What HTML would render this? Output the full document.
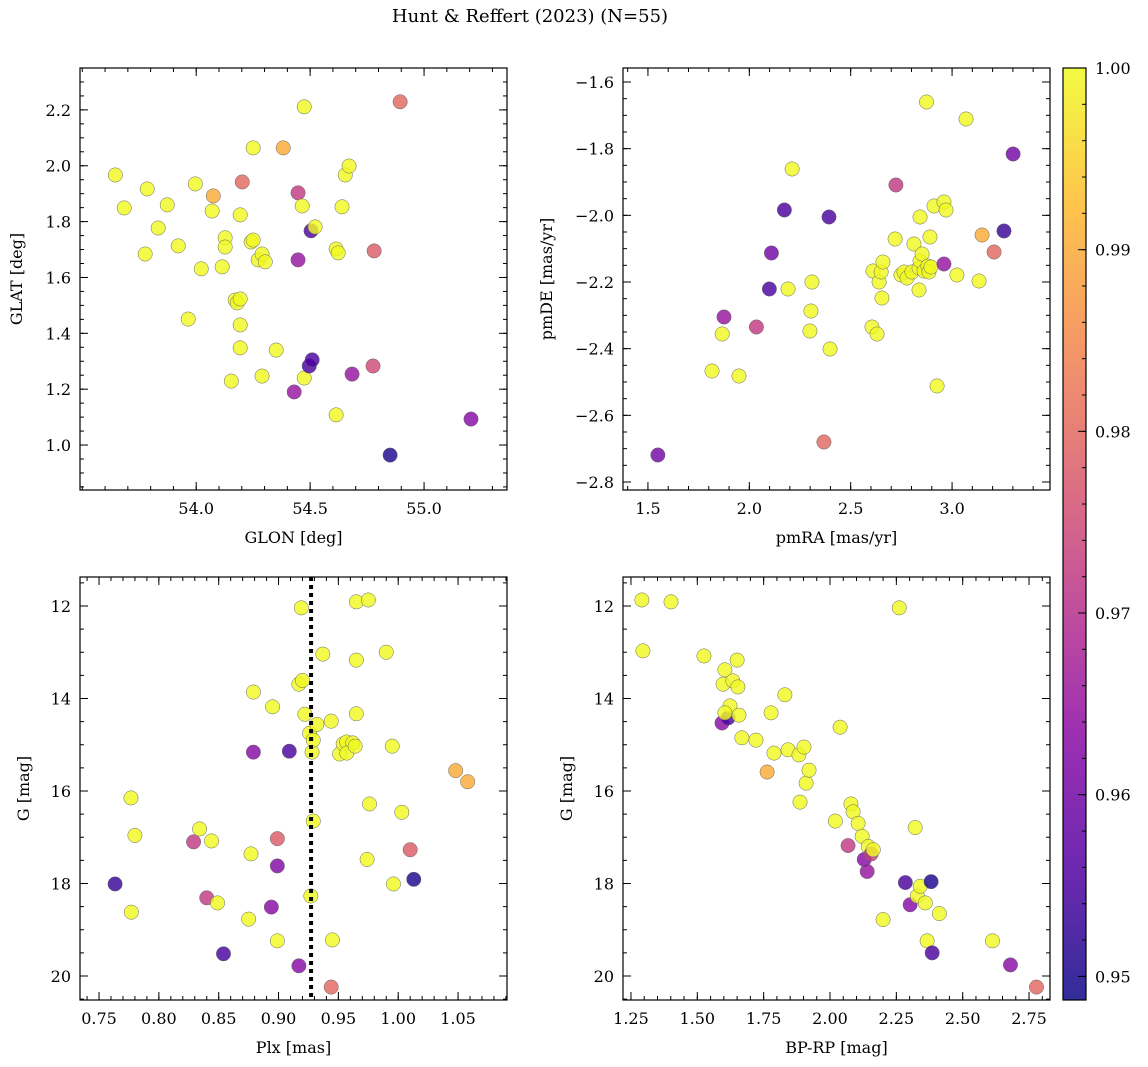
<!DOCTYPE html>
<html><head><meta charset="utf-8"><style>
body{margin:0;background:#fff;}
svg{display:block;font-family:"DejaVu Serif","Liberation Serif",serif;}
</style></head><body>
<svg id="fig" width="1148" height="1067" viewBox="0 0 1148 1067" xmlns="http://www.w3.org/2000/svg">
<text x="530" y="22" font-size="18" text-anchor="middle">Hunt &amp; Reffert (2023) (N=55)</text>
</svg>
<script>
// ---- Data: panel 1 (GLON vs GLAT) ----
const glon = [53.645,53.684,53.785,53.776,53.833,53.873,53.921,53.965,53.996,54.022,54.070,54.075,54.114,54.127,54.127,54.202,54.193,54.171,54.180,54.193,54.193,54.193,54.154,54.241,54.250,54.250,54.272,54.289,54.303,54.289,54.351,54.382,54.447,54.430,54.447,54.465,54.474,54.474,54.496,54.509,54.504,54.522,54.614,54.614,54.623,54.640,54.654,54.671,54.684,54.781,54.776,54.851,54.895,55.206];
const glat = [1.967,1.849,1.917,1.684,1.777,1.860,1.713,1.451,1.935,1.631,1.838,1.892,1.638,1.742,1.709,1.942,1.824,1.519,1.509,1.523,1.430,1.348,1.229,1.727,1.734,2.064,1.663,1.684,1.656,1.247,1.340,2.064,1.663,1.190,1.903,1.856,2.211,1.240,1.283,1.305,1.767,1.781,1.108,1.702,1.688,1.853,1.967,1.999,1.254,1.695,1.283,0.964,2.229,1.093];
const prob1 = [1,1,1,1,1,1,1,1,1,1,1,0.99,1,1,1,0.98,1,1,1,1,1,1,1,1,1,1,1,1,1,1,1,0.99,0.965,0.965,0.972,1,1,1,0.955,0.955,0.955,1,1,1,1,1,1,1,0.965,0.978,0.975,0.95,0.98,0.963];
// ---- Data: panel 2 (pmRA vs pmDE) ----
const pmra = [1.549,1.816,1.866,1.875,1.949,2.035,2.099,2.109,2.173,2.191,2.211,2.299,2.304,2.309,2.368,2.393,2.398,2.605,2.610,2.630,2.640,2.650,2.659,2.654,2.723,2.719,2.748,2.763,2.778,2.802,2.812,2.837,2.837,2.842,2.842,2.852,2.862,2.881,2.886,2.891,2.874,2.896,2.911,2.926,2.960,2.960,2.970,3.024,3.069,3.133,3.148,3.207,3.256,3.301];
const pmde = [-2.719,-2.467,-2.356,-2.305,-2.482,-2.335,-2.221,-2.113,-1.984,-2.221,-1.861,-2.347,-2.287,-2.200,-2.680,-2.005,-2.401,-2.335,-2.167,-2.356,-2.200,-2.170,-2.140,-2.248,-1.909,-2.071,-2.179,-2.170,-2.188,-2.170,-2.086,-2.224,-2.158,-2.005,-2.137,-2.116,-2.167,-2.152,-2.170,-2.065,-1.660,-2.155,-1.972,-2.512,-2.146,-1.960,-1.984,-2.179,-1.711,-2.197,-2.059,-2.110,-2.047,-1.816];
const prob2 = [0.96,1,1,0.965,1,0.972,0.955,0.96,0.955,1,1,1,1,1,0.98,0.955,1,1,1,1,1,1,1,1,0.972,1,1,1,1,1,1,1,1,1,1,1,1,1,1,1,1,1,1,1,0.965,1,1,1,1,1,0.99,0.98,0.953,0.96];
// ---- Data: panel 3 (Plx vs G) ----
const plx = [0.7634,0.7767,0.780,0.777,0.829,0.834,0.840,0.844,0.849,0.854,0.879,0.879,0.875,0.877,0.895,0.894,0.899,0.899,0.899,0.909,0.917,0.919,0.917,0.920,0.922,0.926,0.928,0.929,0.927,0.929,0.932,0.937,0.944,0.945,0.944,0.951,0.954,0.957,0.962,0.957,0.965,0.964,0.965,0.965,0.975,0.974,0.976,0.990,0.996,1.003,0.995,1.010,1.013,1.048,1.058];
const gmag3 = [18.01,16.15,16.96,18.62,17.10,16.82,18.31,17.08,18.42,19.52,13.86,15.16,18.77,17.36,14.18,18.51,17.03,17.62,19.24,15.14,19.78,12.04,13.69,13.61,14.34,14.75,15.16,16.65,18.27,14.90,14.56,13.04,14.49,19.22,20.24,15.20,14.98,14.94,14.96,15.18,11.91,15.03,14.33,13.17,11.87,17.48,16.28,13.00,18.01,16.46,15.03,17.27,17.91,15.56,15.80];
const prob3 = [0.953,1,1,1,0.972,1,0.972,1,1,0.955,1,0.963,1,1,1,0.963,0.978,0.962,1,0.955,0.963,1,1,1,1,1,1,1,1,1,1,1,1,1,0.98,1,1,1,1,1,1,1,1,1,1,1,1,1,1,1,1,0.978,0.95,0.99,0.99];
const plxMean = 0.9272;
// ---- Data: panel 4 (BP-RP vs G) ----
const bprp = [1.291,1.295,1.401,1.525,1.597,1.604,1.634,1.650,1.653,1.593,1.616,1.623,1.604,1.657,1.668,1.721,1.763,1.778,1.789,1.830,1.842,1.883,1.902,1.910,1.921,1.887,2.020,2.038,2.068,2.079,2.087,2.106,2.121,2.129,2.144,2.140,2.155,2.163,2.200,2.261,2.284,2.302,2.321,2.329,2.340,2.359,2.381,2.366,2.385,2.412,2.612,2.680,2.778];
const gmag4 = [11.87,12.97,11.91,13.08,13.69,13.38,13.62,13.17,13.75,14.53,14.42,14.16,14.31,14.36,14.85,14.90,15.59,14.31,15.18,13.92,15.11,15.22,15.05,15.83,15.55,16.24,16.65,14.62,17.18,16.28,16.45,16.70,16.98,17.48,17.20,17.74,17.36,17.27,18.78,12.04,17.98,18.46,16.79,18.27,18.06,18.42,17.96,19.24,19.50,18.65,19.24,19.76,20.24];
const prob4 = [1,1,1,1,1,1,1,1,1,0.963,0.955,1,1,1,1,1,0.99,1,1,1,1,1,1,1,1,1,1,1,0.972,1,1,1,1,0.963,1,0.965,0.972,1,1,1,0.955,0.963,1,1,1,1,0.95,1,0.955,1,1,0.963,0.98];
// ---- Tick labels ----
const ticks1x=[54.0,54.5,55.0], ticks1y=[1.0,1.2,1.4,1.6,1.8,2.0,2.2];
const ticks2x=[1.5,2.0,2.5,3.0], ticks2y=[-2.8,-2.6,-2.4,-2.2,-2.0,-1.8,-1.6];
const ticks3x=[0.75,0.80,0.85,0.90,0.95,1.00,1.05], ticksG=[12,14,16,18,20];
const ticks4x=[1.25,1.50,1.75,2.00,2.25,2.50,2.75];
const cbTicks=[0.95,0.96,0.97,0.98,0.99,1.00];

const NS="http://www.w3.org/2000/svg";
const svg=document.getElementById('fig');
function mk(tag,attrs,parent){const e=document.createElementNS(NS,tag);for(const k in attrs)e.setAttribute(k,attrs[k]);(parent||svg).appendChild(e);return e;}
const PMIN=0.9487,PMAX=1.0;
const stops=[[13,8,135],[84,2,163],[139,10,165],[185,50,137],[219,92,104],[244,136,73],[254,188,43],[240,249,33]];
function plasma(p){let t=Math.max(0,Math.min(1,(p-PMIN)/(PMAX-PMIN)))*(stops.length-1);const i=Math.min(stops.length-2,Math.floor(t));const f=t-i;const c=stops[i].map((v,k)=>Math.round(v+(stops[i+1][k]-v)*f));return `rgb(${c[0]},${c[1]},${c[2]})`;}

function panel(cfg){
  const {name,x0,x1,y0,y1,xmin,xmax,ymin,ymax,invY,xt,yt,xminor,yminor,xfmt,yfmt,xlabel,ylabel,xs,ys,ps}=cfg;
  const g=mk('g',{});
  
  
  const sx=v=>x0+(v-xmin)/(xmax-xmin)*(x1-x0);
  const sy=v=>invY? y0+(v-ymin)/(ymax-ymin)*(y1-y0) : y1-(v-ymin)/(ymax-ymin)*(y1-y0);
  const clip='c'+name;
  const cp=mk('clipPath',{id:clip},g);mk('rect',{x:x0,y:y0,width:x1-x0,height:y1-y0},cp);
  const pts=mk('g',{'clip-path':`url(#${clip})`},g);
  
  
  for(let i=0;i<xs.length;i++){
    const c=mk('circle',{cx:sx(xs[i]),cy:sy(ys[i]),r:7.2,fill:plasma(ps[i]),'fill-opacity':0.82,stroke:'#666','stroke-width':0.5},pts);
    
    
  }
  if(cfg.vline!==undefined){
    const l=mk('line',{x1:sx(cfg.vline),x2:sx(cfg.vline),y1:y0,y2:y1,stroke:'#000','stroke-width':4,'stroke-dasharray':'4,4'},g);
    
    
  }
  mk('rect',{x:x0,y:y0,width:x1-x0,height:y1-y0,fill:'none',stroke:'#000','stroke-width':1.2},g);
  const tk=mk('g',{stroke:'#000','stroke-width':1},g);
  for(let v=Math.ceil(xmin/xminor-1e-6)*xminor;v<=xmax+1e-9;v+=xminor){const X=sx(v);mk('line',{x1:X,x2:X,y1:y1,y2:y1-4},tk);mk('line',{x1:X,x2:X,y1:y0,y2:y0+4},tk);}
  for(let v=Math.ceil(Math.min(ymin,ymax)/yminor-1e-6)*yminor;v<=Math.max(ymin,ymax)+1e-9;v+=yminor){const Y=sy(v);mk('line',{x1:x0,x2:x0+4,y1:Y,y2:Y},tk);mk('line',{x1:x1,x2:x1-4,y1:Y,y2:Y},tk);}
  xt.forEach(v=>{const X=sx(v);mk('line',{x1:X,x2:X,y1:y1,y2:y1-8},tk);mk('line',{x1:X,x2:X,y1:y0,y2:y0+8},tk);
    const t=mk('text',{x:X,y:y1+24,'font-size':16,'text-anchor':'middle'},g);t.textContent=xfmt(v);
    });
  yt.forEach(v=>{const Y=sy(v);mk('line',{x1:x0,x2:x0+8,y1:Y,y2:Y},tk);mk('line',{x1:x1,x2:x1-8,y1:Y,y2:Y},tk);
    const t=mk('text',{x:x0-9,y:Y+6,'font-size':16,'text-anchor':'end'},g);t.textContent=yfmt(v);
    });
  const xl=mk('text',{x:(x0+x1)/2,y:y1+53,'font-size':16,'text-anchor':'middle'},g);xl.textContent=xlabel;
  
  const yx=cfg.ylx, yy=(y0+y1)/2;
  const yl=mk('text',{x:yx,y:yy,'font-size':16,'text-anchor':'middle',transform:`rotate(-90 ${yx} ${yy})`},g);yl.textContent=ylabel;
  
}
const minus=s=>s.replace('-','\u2212');
panel({name:'glon-glat-panel',x0:80,x1:507,y0:68,y1:490,xmin:53.49,xmax:55.364,ymin:0.839,ymax:2.35,xt:ticks1x,yt:ticks1y,xminor:0.1,yminor:0.05,xfmt:v=>v.toFixed(1),yfmt:v=>v.toFixed(1),xlabel:'GLON [deg]',ylabel:'GLAT [deg]',ylx:22,xs:glon,ys:glat,ps:prob1});
panel({name:'pm-panel',x0:623,x1:1050,y0:68,y1:490,xmin:1.377,xmax:3.483,ymin:-2.824,ymax:-1.558,xt:ticks2x,yt:ticks2y,xminor:0.1,yminor:0.05,xfmt:v=>v.toFixed(1),yfmt:v=>minus(v.toFixed(1)),xlabel:'pmRA [mas/yr]',ylabel:'pmDE [mas/yr]',ylx:552,xs:pmra,ys:pmde,ps:prob2});
panel({name:'plx-g-panel',x0:80,x1:507,y0:577,y1:1000,xmin:0.7341,xmax:1.0909,ymin:11.373,ymax:20.519,invY:true,xt:ticks3x,yt:ticksG,xminor:0.01,yminor:0.5,xfmt:v=>v.toFixed(2),yfmt:v=>String(v),xlabel:'Plx [mas]',ylabel:'G [mag]',ylx:29,xs:plx,ys:gmag3,ps:prob3,vline:plxMean});
panel({name:'cmd-panel',x0:623,x1:1050,y0:577,y1:1000,xmin:1.22,xmax:2.829,ymin:11.373,ymax:20.519,invY:true,xt:ticks4x,yt:ticksG,xminor:0.05,yminor:0.5,xfmt:v=>v.toFixed(2),yfmt:v=>String(v),xlabel:'BP-RP [mag]',ylabel:'G [mag]',ylx:572,xs:bprp,ys:gmag4,ps:prob4});
// colorbar
(function(){
  const g=mk('g',{});
  
  
  const x0=1063,x1=1086,y0=68,y1=1000;
  const defs=mk('defs',{},g);const lg=mk('linearGradient',{id:'cbg',x1:0,y1:1,x2:0,y2:0},defs);
  for(let i=0;i<=20;i++){mk('stop',{offset:i/20,'stop-color':plasma(PMIN+(PMAX-PMIN)*i/20),'stop-opacity':0.85},lg);}
  mk('rect',{x:x0,y:y0,width:x1-x0,height:y1-y0,fill:'url(#cbg)',stroke:'#000','stroke-width':1.2},g);
  const sy=v=>y1-(v-PMIN)/(PMAX-PMIN)*(y1-y0);
  for(let v=0.950;v<=1.0001;v+=0.002){mk('line',{x1:x1,x2:x1-4,y1:sy(v),y2:sy(v),stroke:'#000'},g);}
  cbTicks.forEach(v=>{const Y=sy(v);mk('line',{x1:x1,x2:x1-8,y1:Y,y2:Y,stroke:'#000'},g);
    const t=mk('text',{x:x1+9,y:Y+6,'font-size':16},g);t.textContent=v.toFixed(2);
    });
})();
</script>
</body></html>
